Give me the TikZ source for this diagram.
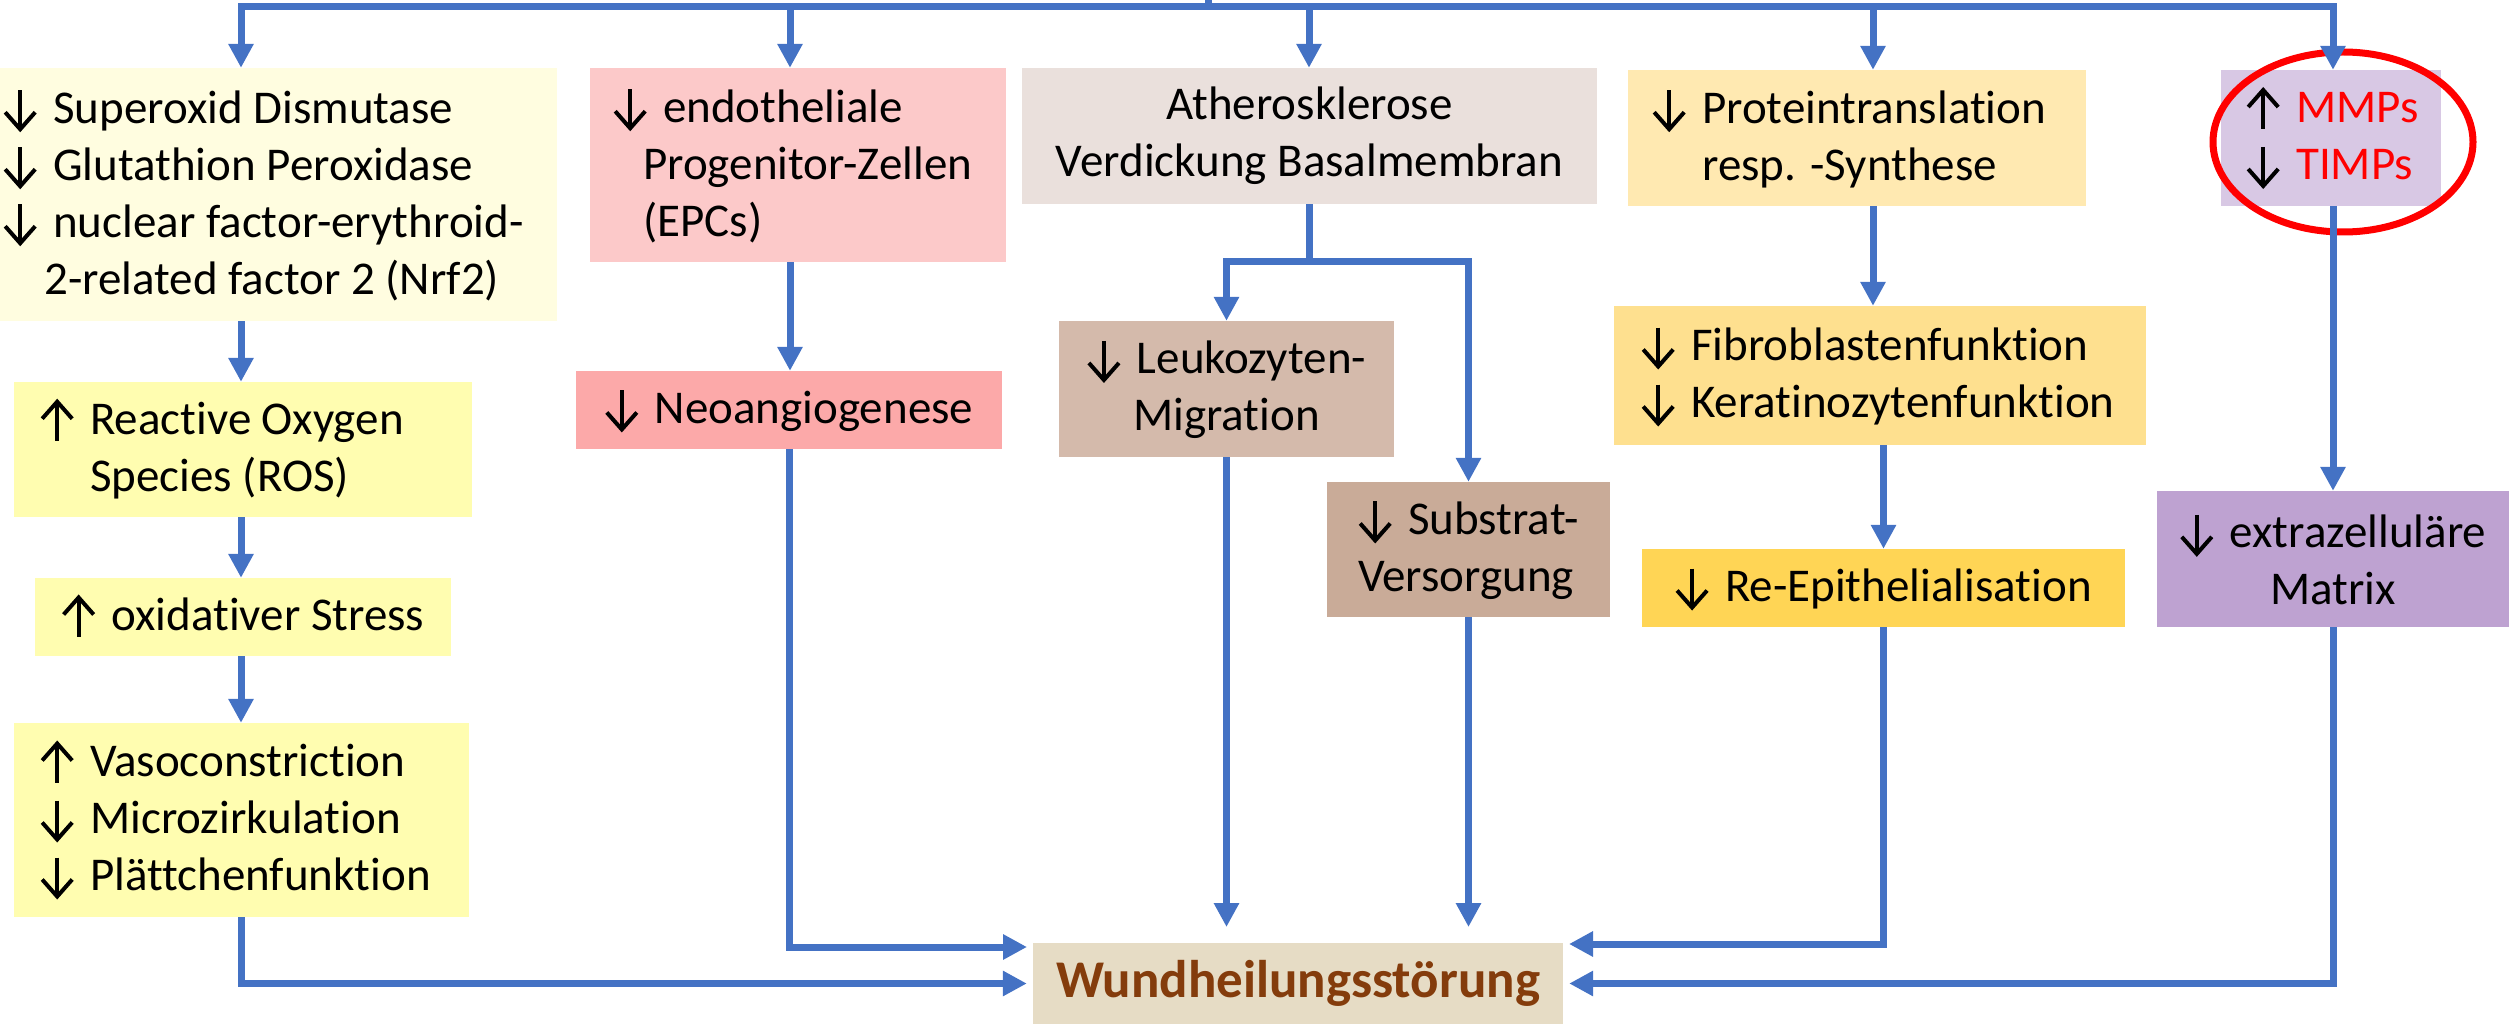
\documentclass[tikz,border=0pt]{standalone}
\usepackage{fontspec}
\setmainfont{Carlito}[Ligatures={NoCommon,NoContextual}]
\usetikzlibrary{arrows.meta}

\definecolor{flowblue}{HTML}{4472C4}
\definecolor{cNrf}{HTML}{FFFDE0}
\definecolor{cRos}{HTML}{FFFDB0}
\definecolor{cEpc}{HTML}{FCC9C9}
\definecolor{cNeo}{HTML}{FCA9A9}
\definecolor{cAth}{HTML}{EAE0DC}
\definecolor{cLeu}{HTML}{D4BAAB}
\definecolor{cSub}{HTML}{C9AB98}
\definecolor{cPro}{HTML}{FFE9B1}
\definecolor{cFib}{HTML}{FEE08F}
\definecolor{cRep}{HTML}{FFD555}
\definecolor{cMmp}{HTML}{D8C8E4}
\definecolor{cEcm}{HTML}{BEA2D1}
\definecolor{cWund}{HTML}{E6DCC5}
\definecolor{wundtext}{HTML}{843C0C}
\definecolor{mmpred}{HTML}{FF0000}

% small drawn arrows for "decreased" / "increased"
\newcommand\dn{\tikz[baseline=0pt,x=1pt,y=1pt,line width=4pt,line join=miter]
  {\draw (16,33)--(16,-4); \draw (1,11)--(16,-6)--(31,11);}\kern16pt}
\newcommand\up{\tikz[baseline=0pt,x=1pt,y=1pt,line width=4pt,line join=miter]
  {\draw (16,-6)--(16,31); \draw (1,16)--(16,33)--(31,16);}\kern16pt}
\newcommand\hang{\hphantom{\dn}}

\begin{document}
\begin{tikzpicture}[x=1pt,y=-1pt,
  box/.style={inner sep=0pt, font=\fontsize{47}{57}\selectfont, align=center},
  txt/.style={inner sep=0pt, font=\fontsize{47}{57}\selectfont, align=left, anchor=west},
  sz/.style 2 args={minimum width=#1pt, minimum height=#2pt},
  flow/.style={draw=flowblue, line width=7pt, line join=miter},
  arr/.style={flow, -{Triangle[length=24pt,width=24pt]}},
]
\useasboundingbox (0,0) rectangle (2509,1024);

% ---- boxes ----
\node[box, sz={557}{253}, fill=cNrf] (nrf) at (278.5,194.5) {};
\node[txt] (nrf-t) at (3,194.5)
  {\dn Superoxid Dismutase\\
   \dn Glutathion Peroxidase\\
   \dn nuclear factor-erythroid-\\
   \hspace*{41pt}2-related factor 2 (Nrf2)};
\node[box, sz={458}{135}, fill=cRos] (ros) at (243,449.5) {};
\node[txt] (ros-t) at (40,449.5)
  {\up Reactive Oxygen\\ \hang Species (ROS)};
\node[box, sz={416}{78}, fill=cRos] (oxs) at (243,617)
  {\up oxidativer Stress};
\node[box, sz={455}{194}, fill=cRos] (vaso) at (241.5,820) {};
\node[txt] (vaso-t) at (40,820)
  {\up Vasoconstriction\\ \dn Microzirkulation\\ \dn Plättchenfunktion};

\node[box, sz={416}{194}, fill=cEpc] (epc) at (798,165) {};
\node[txt] (epc-t) at (613,165)
  {\dn endotheliale\\ \hspace*{30pt}Progenitor-Zellen\\ \hspace*{30pt}(EPCs)};
\node[box, sz={426}{78}, fill=cNeo] (neo) at (789,410)
  {\dn Neoangiogenese};

\node[box, sz={575}{136}, fill=cAth] (ath) at (1309.5,136)
  {Atherosklerose\\ Verdickung Basalmembran};
\node[box, sz={335}{136}, fill=cLeu] (leu) at (1226.5,389)
  {\dn Leukozyten-\\ Migration};
\node[box, sz={283}{135}, fill=cSub] (sub) at (1468.5,549.5) {};
\node[txt] (sub-t) at (1358,549.5)
  {\dn Substrat-\\ Versorgung};

\node[box, sz={458}{136}, fill=cPro] (pro) at (1857,138) {};
\node[txt] (pro-t) at (1652,138)
  {\dn Proteintranslation\\ \hang resp. -Synthese};
\node[box, sz={532}{139}, fill=cFib] (fib) at (1880,375.5) {};
\node[txt] (fib-t) at (1641,375.5)
  {\dn Fibroblastenfunktion\\ \dn Keratinozytenfunktion};
\node[box, sz={483}{78}, fill=cRep] (rep) at (1883.5,588)
  {\dn Re-Epithelialisation};

\node[box, sz={220}{136}, fill=cMmp] (mmp) at (2331,138) {};
\node[txt] (mmp-t) at (2246,138)
  {\up\textcolor{mmpred}{MMPs}\\ \dn\textcolor{mmpred}{TIMPs}};
\node[box, sz={352}{136}, fill=cEcm] (ecm) at (2333,559)
  {\dn extrazelluläre\\ Matrix};

\node[box, sz={530}{81}, fill=cWund, text=wundtext,
      font=\fontsize{53}{60}\selectfont\bfseries] (wund) at (1298,983.5)
  {Wundheilungsstörung};

% highlight ring around the MMP box
\draw[mmpred, line width=7pt] (2343,142) ellipse [x radius=130pt, y radius=90pt];

% ---- connector coordinates ----
\coordinate (src) at (1208,0);
\coordinate (j0) at (1208,7);
\coordinate (tl) at (241,7);
\coordinate (tr) at (2333,7);
\coordinate (j1) at (790,7);
\coordinate (j2) at (1309,7);
\coordinate (j3) at (1873,7);
\coordinate (lvl) at (0,262);
\coordinate (stop) at (0,927);
\coordinate (wnw) at (1027,947);
\coordinate (wne) at (1569,944);

% ---- distribution line along the top ----
\draw[flow] (src) -- (j0);
\draw[arr] (j0) -- (tl) -- (tl |- nrf.north);
\draw[arr] (j0) -- (tr) -- (tr |- mmp.north);
\draw[arr] (j1) -- (j1 |- epc.north);
\draw[arr] (j2) -- (j2 |- ath.north);
\draw[arr] (j3) -- (j3 |- pro.north);

% ---- left column ----
\draw[arr] (tl |- nrf.south) -- (tl |- ros.north);
\draw[arr] (tl |- ros.south) -- (tl |- oxs.north);
\draw[arr] (tl |- oxs.south) -- (tl |- vaso.north);
\draw[arr, shorten >=6pt] (tl |- vaso.south) |- (wund.west);

% ---- EPC column ----
\draw[arr] (j1 |- epc.south) -- (j1 |- neo.north);
\draw[arr] (neo.south) |- (wnw);

% ---- atherosclerosis branch ----
\draw[arr] (ath.south) -- (ath.south |- lvl) -| (leu.north);
\draw[arr] (ath.south |- lvl) -| (sub.north);
\draw[arr] (leu.south) -- (leu.south |- stop);
\draw[arr] (sub.south) -- (sub.south |- stop);

% ---- protein synthesis column ----
\draw[arr] (j3 |- pro.south) -- (j3 |- fib.north);
\draw[arr] (rep.north |- fib.south) -- (rep.north);
\draw[arr] (rep.south) |- (wne);

% ---- matrix column ----
\draw[arr] (tr |- mmp.south) -- (tr |- ecm.north);
\draw[arr, shorten >=6pt] (ecm.south) |- (wund.east);
\end{tikzpicture}
\end{document}
